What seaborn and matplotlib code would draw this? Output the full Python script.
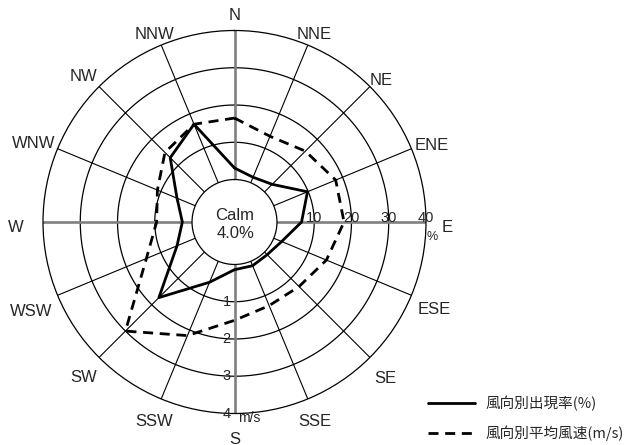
import numpy as np
import pandas as pd
import matplotlib
matplotlib.use("Agg")
import matplotlib.pyplot as plt
import seaborn as sns

# --- data -----------------------------------------------------------------
directions = ["N", "NNE", "NE", "ENE", "E", "ESE", "SE", "SSE",
              "S", "SSW", "SW", "WSW", "W", "WNW", "NW", "NNW"]
frequency_pct = [3.1, 1.6, 2.9, 9.8, 6.6, 2.3, 1.0, 1.3,
                 1.4, 6.1, 17.3, 5.3, 2.6, 5.3, 13.0, 17.0]
mean_speed_ms = [1.65, 1.35, 1.55, 1.80, 1.80, 1.53, 1.31, 1.29,
                 1.50, 2.16, 3.00, 1.42, 0.95, 1.10, 1.50, 1.70]
calm_pct = 4.0
pct_ticks = [10, 20, 30, 40]
speed_ticks = [1, 2, 3, 4]
series_labels = ["風向別出現率(%)", "風向別平均風速(m/s)"]

# --- layout ---------------------------------------------------------------
W_PX, H_PX = 624, 445
CX, CY, R_PX = 234.5, 222.0, 191.5     # rose centre and outer radius (px)
R_MAX = 40                              # outer ring value (%)
R_ORIGIN = -11.4                        # leaves room for the calm circle
PCT_PER_MS = 10                         # 1 m/s drawn on the 10 % ring
PT = 0.72                               # points per pixel at 100 dpi
# distance of each direction label from the centre (px)
label_radius_px = [212, 208, 207, 214, 213, 216, 214, 211,
                   212, 210, 213, 220, 219, 217, 213, 208]

sns.set_theme(style="white")
plt.rcParams["font.family"] = ["Liberation Sans", "Noto Sans CJK JP"]


def px_to_r(p):
    return R_ORIGIN + p / R_PX * (R_MAX - R_ORIGIN)


fig = plt.figure(figsize=(W_PX / 100, H_PX / 100), dpi=100)
fig.patch.set_facecolor("white")
ax = fig.add_axes([(CX - R_PX) / W_PX, (H_PX - CY - R_PX) / H_PX,
                   2 * R_PX / W_PX, 2 * R_PX / H_PX], projection="polar")
ax.set_facecolor("white")
ax.set_theta_zero_location("N")
ax.set_theta_direction(-1)
ax.set_rlim(0, R_MAX)
ax.set_rorigin(R_ORIGIN)
ax.grid(False)
ax.set_xticks([])
ax.set_yticks([])
for name in ("polar", "inner"):
    ax.spines[name].set_color("black")
    ax.spines[name].set_linewidth(0.9)

# rings
ring_t = np.linspace(0, 2 * np.pi, 721)
for r in pct_ticks[:-1]:
    ax.plot(ring_t, np.full_like(ring_t, r), color="black", lw=0.9, zorder=1)

# spokes: cardinal ones in grey
theta = np.deg2rad(np.arange(len(directions)) * 360 / len(directions))
for i, th in enumerate(theta):
    if i % 4 == 0:
        ax.plot([th, th], [0, R_MAX], color="#808080", lw=1.9, zorder=1)
    else:
        ax.plot([th, th], [0, R_MAX], color="black", lw=0.8, zorder=1)

# series (closed loops)
df = pd.DataFrame({
    "theta": np.append(theta, 2 * np.pi),
    "freq": np.append(frequency_pct, frequency_pct[0]),
    "speed_r": np.append(mean_speed_ms, mean_speed_ms[0]) * PCT_PER_MS,
})
sns.lineplot(data=df, x="theta", y="freq", sort=False, estimator=None,
             color="black", lw=2.0, ax=ax, legend=False,
             label=series_labels[0], zorder=3)
sns.lineplot(data=df, x="theta", y="speed_r", sort=False, estimator=None,
             color="black", lw=2.0, linestyle=(0, (3.6, 2.4)), ax=ax,
             legend=False, label=series_labels[1], zorder=3)
ax.set_xlabel("")
ax.set_ylabel("")
ax.set_xticks([])
ax.set_yticks([])

# direction labels
for th, name, rp in zip(theta, directions, label_radius_px):
    ax.annotate(name, xy=(th, px_to_r(rp)), xytext=(0, -3.5 * PT),
                textcoords="offset points", ha="center",
                va="center_baseline", fontsize=12, annotation_clip=False)

# percentage scale along E
for v in pct_ticks:
    ax.annotate(str(v), xy=(np.pi / 2, v), xytext=(0, 0.5 * PT),
                textcoords="offset points", ha="center", va="baseline",
                fontsize=10.5, annotation_clip=False, zorder=4)
ax.annotate("%", xy=(np.pi / 2, R_MAX), xytext=(6 * PT, -15 * PT),
            textcoords="offset points", ha="center", va="center",
            fontsize=9, annotation_clip=False)

# wind-speed scale along S
for s in speed_ticks:
    ax.annotate(str(s), xy=(np.pi, s * PCT_PER_MS), xytext=(-4 * PT, 0),
                textcoords="offset points", ha="right", va="center",
                fontsize=10.5, annotation_clip=False, zorder=4)
ax.annotate("m/s", xy=(np.pi, speed_ticks[-1] * PCT_PER_MS),
            xytext=(4 * PT, -4.5 * PT), textcoords="offset points",
            ha="left", va="center", fontsize=10, annotation_clip=False)

# calm share in the centre
ax.annotate("Calm", xy=(0.5, 0.5), xycoords="axes fraction",
            xytext=(0, 6.5 * PT), textcoords="offset points",
            ha="center", va="center", fontsize=12)
ax.annotate(f"{calm_pct:.1f}%", xy=(0.5, 0.5), xycoords="axes fraction",
            xytext=(1 * PT, -12 * PT), textcoords="offset points",
            ha="center", va="center", fontsize=12)

handles, labels = ax.get_legend_handles_labels()
fig.legend(handles, labels, loc="upper left",
           bbox_to_anchor=(428 / W_PX, 1 - 396 / H_PX),
           frameon=False, prop={"family": "Noto Sans CJK JP", "size": 10.5},
           handlelength=3.2, handletextpad=0.75, labelspacing=0.95,
           borderpad=0, borderaxespad=0)

fig.savefig("out.png", dpi=100, facecolor="white")
